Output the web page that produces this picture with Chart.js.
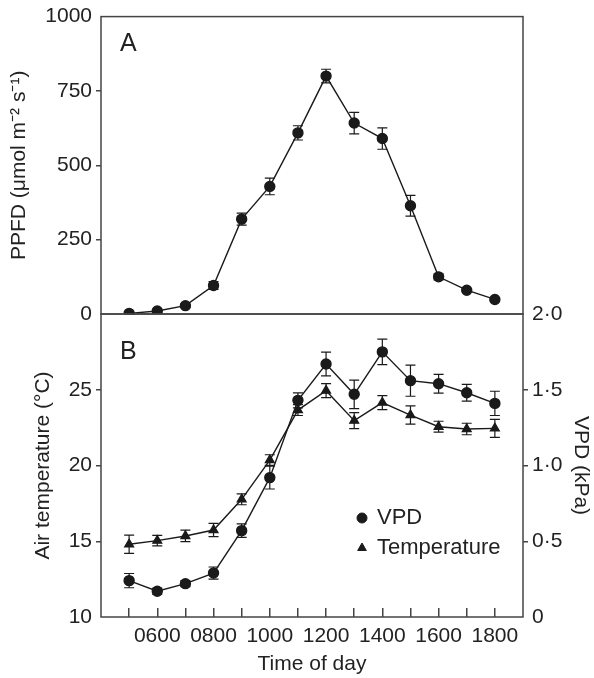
<!DOCTYPE html>
<html>
<head>
<meta charset="utf-8">
<script src="https://cdn.jsdelivr.net/npm/chart.js"></script>
<style>
  body { margin: 0; background: #fff; }
  #wrap { position: relative; width: 594px; height: 678px; }
  canvas { position: absolute; left: 0; top: 0; }
</style>
</head>
<body>
<div id="wrap">
  <canvas id="chartA" width="594" height="678"></canvas>
  <canvas id="chartB" width="594" height="678"></canvas>
</div>
<script>
// time of day (hours)
const times = [5, 6, 7, 8, 9, 10, 11, 12, 13, 14, 15, 16, 17, 18];
const xTickLabels = ['', '0600', '', '0800', '', '1000', '', '1200', '', '1400', '', '1600', '', '1800'];

// panel A
const ppfd    = [2, 10, 28, 96, 319, 429, 609, 800, 642, 590, 364, 125, 80, 49];
const ppfdErr = [3, 4, 5, 13, 20, 28, 24, 23, 36, 36, 35, 10, 5, 4];

// panel B
const vpd     = [0.24, 0.17, 0.22, 0.29, 0.57, 0.92, 1.43, 1.67, 1.47, 1.75, 1.56, 1.54, 1.48, 1.41];
const vpdErr  = [0.047, 0.02, 0.02, 0.04, 0.045, 0.075, 0.05, 0.078, 0.094, 0.084, 0.103, 0.062, 0.055, 0.08];
const temperature = [14.8, 15.04, 15.35, 15.74, 17.77, 20.36, 23.66, 24.94, 22.96, 24.15, 23.33, 22.56, 22.41, 22.45];
const tempErr     = [0.6, 0.35, 0.38, 0.44, 0.36, 0.35, 0.36, 0.46, 0.53, 0.46, 0.6, 0.36, 0.38, 0.6];

Chart.defaults.font.family = "'Liberation Sans', Arial, sans-serif";
Chart.defaults.color = '#222';

const ink = '#1a1a1a';
const axisInk = '#444';

const toPoints = (vals) => times.map((t, i) => ({ x: t, y: vals[i] }));

// no tick marks at the ends of a y axis (they sit on the frame)
const innerTickColor = (ctx) => {
    const s = ctx.scale;
    return (ctx.tick.value === s.min || ctx.tick.value === s.max) ? 'rgba(0,0,0,0)' : axisInk;
};

const errorBars = {
    id: 'errorBars',
    beforeDatasetsDraw(chart) {
        const ctx = chart.ctx;
        chart.data.datasets.forEach((ds, i) => {
            if (!ds.errors) return;
            const meta = chart.getDatasetMeta(i);
            const xs = chart.scales[meta.xAxisID];
            const ys = chart.scales[meta.yAxisID];
            ctx.save();
            ctx.strokeStyle = ink;
            ctx.lineWidth = 1.2;
            ds.data.forEach((p, j) => {
                const x = xs.getPixelForValue(p.x);
                const lo = ys.getPixelForValue(p.y - ds.errors[j]);
                const hi = ys.getPixelForValue(p.y + ds.errors[j]);
                ctx.beginPath();
                ctx.moveTo(x, lo); ctx.lineTo(x, hi);
                ctx.moveTo(x - 5, lo); ctx.lineTo(x + 5, lo);
                ctx.moveTo(x - 5, hi); ctx.lineTo(x + 5, hi);
                ctx.stroke();
            });
            ctx.restore();
        });
    }
};

const frame = {
    id: 'frame',
    afterDraw(chart, args, opts) {
        const { ctx, chartArea: a } = chart;
        ctx.save();
        ctx.strokeStyle = axisInk;
        ctx.lineWidth = 1.5;
        ctx.strokeRect(a.left, a.top, a.right - a.left, a.bottom - a.top);
        if (opts.letter) {
            ctx.fillStyle = '#222';
            ctx.font = "25px 'Liberation Sans', Arial, sans-serif";
            ctx.textBaseline = 'middle';
            ctx.fillText(opts.letter, opts.lx, opts.ly);
        }
        ctx.restore();
    }
};

const pointLegend = {
    id: 'pointLegend',
    afterDraw(chart, args, opts) {
        if (!opts.x) return;
        const ctx = chart.ctx;
        ctx.save();
        ctx.font = "22px 'Liberation Sans', Arial, sans-serif";
        ctx.textBaseline = 'middle';
        opts.order.forEach((di, k) => {
            const ds = chart.data.datasets[di];
            const y = opts.y + k * opts.gap;
            ctx.fillStyle = ink;
            ctx.strokeStyle = ink;
            Chart.helpers.drawPoint(ctx, { pointStyle: ds.pointStyle, radius: ds.pointRadius, rotation: 0, borderWidth: 1 }, opts.x, y);
            ctx.fillStyle = '#222';
            ctx.fillText(ds.label, opts.x + 15, y);
        });
        ctx.restore();
    }
};

const tickFont = { size: 21 };
const titleFont = { size: 21 };

const lineStyle = (label, data, errors, style, axis) => ({
    label: label,
    data: data,
    errors: errors,
    yAxisID: axis,
    borderColor: ink,
    backgroundColor: ink,
    borderWidth: 1.4,
    pointStyle: style,
    pointRadius: 5,
    pointBackgroundColor: ink,
    pointBorderColor: ink,
    tension: 0
});

new Chart(document.getElementById('chartA'), {
    type: 'line',
    data: {
        datasets: [lineStyle('PPFD', toPoints(ppfd), ppfdErr, 'circle', 'y')]
    },
    options: {
        responsive: false,
        devicePixelRatio: 1,
        animation: false,
        layout: { padding: { top: 12, right: 71, bottom: 364, left: 0 } },
        scales: {
            x: { type: 'linear', min: 4, max: 19, display: false },
            y: {
                min: 0, max: 1000,
                ticks: { stepSize: 250, font: tickFont, padding: 4, callback: (v) => String(v) },
                grid: { drawOnChartArea: false, tickLength: 5, color: innerTickColor, lineWidth: 1.5 },
                border: { display: false },
                title: { display: true, text: 'PPFD (μmol m⁻² s⁻¹)', font: titleFont, padding: { top: 7 } },
                afterFit: (s) => { s.width = 101; }
            }
        },
        plugins: {
            legend: { display: false },
            tooltip: { enabled: false },
            frame: { letter: 'A', lx: 120, ly: 44 }
        }
    },
    plugins: [errorBars, frame]
});

new Chart(document.getElementById('chartB'), {
    type: 'line',
    data: {
        datasets: [
            lineStyle('VPD', toPoints(vpd), vpdErr, 'circle', 'yV'),
            lineStyle('Temperature', toPoints(temperature), tempErr, 'triangle', 'yT')
        ]
    },
    options: {
        responsive: false,
        devicePixelRatio: 1,
        animation: false,
        layout: { padding: { top: 314, right: 0, bottom: 0, left: 0 } },
        scales: {
            x: {
                type: 'linear', min: 4, max: 19,
                afterBuildTicks: (s) => { s.ticks = times.map(v => ({ value: v })); },
                ticks: {
                    autoSkip: false, maxRotation: 0, font: tickFont, padding: 16,
                    callback: (v, i) => xTickLabels[i]
                },
                grid: { drawOnChartArea: false, tickLength: -9, color: axisInk, lineWidth: 1.5 },
                border: { display: false },
                title: { display: true, text: 'Time of day', font: titleFont, padding: { bottom: 1 } },
                afterFit: (s) => { s.height = 61; }
            },
            yT: {
                position: 'left',
                min: 10, max: 30,
                ticks: { stepSize: 5, font: tickFont, padding: 4, callback: (v) => v === 30 ? '' : String(v) },
                grid: { drawOnChartArea: false, tickLength: 5, color: innerTickColor, lineWidth: 1.5 },
                border: { display: false },
                title: { display: true, text: 'Air temperature (°C)', font: titleFont, padding: { top: 31 } },
                afterFit: (s) => { s.width = 101; }
            },
            yV: {
                position: 'right',
                min: 0, max: 2,
                ticks: { stepSize: 0.5, font: tickFont, padding: 4, callback: (v) => v === 0 ? '0' : v.toFixed(1).replace('.', '·') },
                grid: { drawOnChartArea: false, tickLength: 5, color: innerTickColor, lineWidth: 1.5 },
                border: { display: false },
                title: { display: true, text: 'VPD (kPa)', font: titleFont, padding: { top: 1 } },
                afterFit: (s) => { s.width = 71; }
            }
        },
        plugins: {
            legend: { display: false },
            tooltip: { enabled: false },
            frame: { letter: 'B', lx: 120, ly: 352 },
            pointLegend: { x: 362, y: 518, gap: 30, order: [0, 1] }
        }
    },
    plugins: [errorBars, frame, pointLegend]
});
</script>
</body>
</html>
